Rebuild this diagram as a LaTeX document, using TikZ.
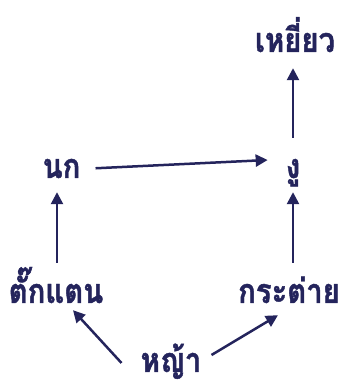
\documentclass[tikz,border=0pt]{standalone}
\usepackage{fontspec}
\newfontfamily\thaifont[Script=Thai,FakeStretch=0.86,BoldFeatures={FakeBold=1.2}]{Loma}
\usetikzlibrary{arrows.meta}
\definecolor{ink}{HTML}{24245C}
\tikzset{
  lbl/.style={text=ink, font=\thaifont\bfseries\fontsize{34}{40}\selectfont,
    inner sep=0pt, text height=24pt, text depth=6pt, anchor=base},
  arr/.style={draw=ink, line width=2.5pt, -{Triangle[length=12pt,width=12pt]}}
}
\begin{document}
\begin{tikzpicture}[x=1pt,y=1pt]
\useasboundingbox (0,0) rectangle (344,383);
\node[lbl] (hawk) at (295,331) {เหยี่ยว};
\node[lbl] (bird) at (61.5,205) {นก};
\node[lbl] (snake) at (293,205) {งู};
\node[lbl] (hopper) at (56,80) {ตั๊กแตน};
\node[lbl] (rabbit) at (289,80) {กระต่าย};
\node[lbl] (grass) at (171,11) {หญ้า};
\draw[arr, shorten <=16pt, shorten >=10pt] (snake.north) -- ([xshift=-2pt]hawk.south);
\draw[arr, shorten <=15pt] (bird.east) -- ([xshift=-18pt,yshift=9pt]snake.west);
\draw[arr, shorten <=16pt, shorten >=8pt] ([xshift=1pt]hopper.north) -- ([xshift=-4.5pt]bird.south);
\draw[arr, shorten <=16pt, shorten >=8pt] ([xshift=4pt]rabbit.north) -- (snake.south);
\draw[arr] ([xshift=-19pt,yshift=0pt]grass.west) -- ([xshift=17pt,yshift=-1pt]hopper.south);
\draw[arr] ([xshift=10pt,yshift=8pt]grass.east) -- ([xshift=-11pt,yshift=-6pt]rabbit.south);
\end{tikzpicture}
\end{document}
